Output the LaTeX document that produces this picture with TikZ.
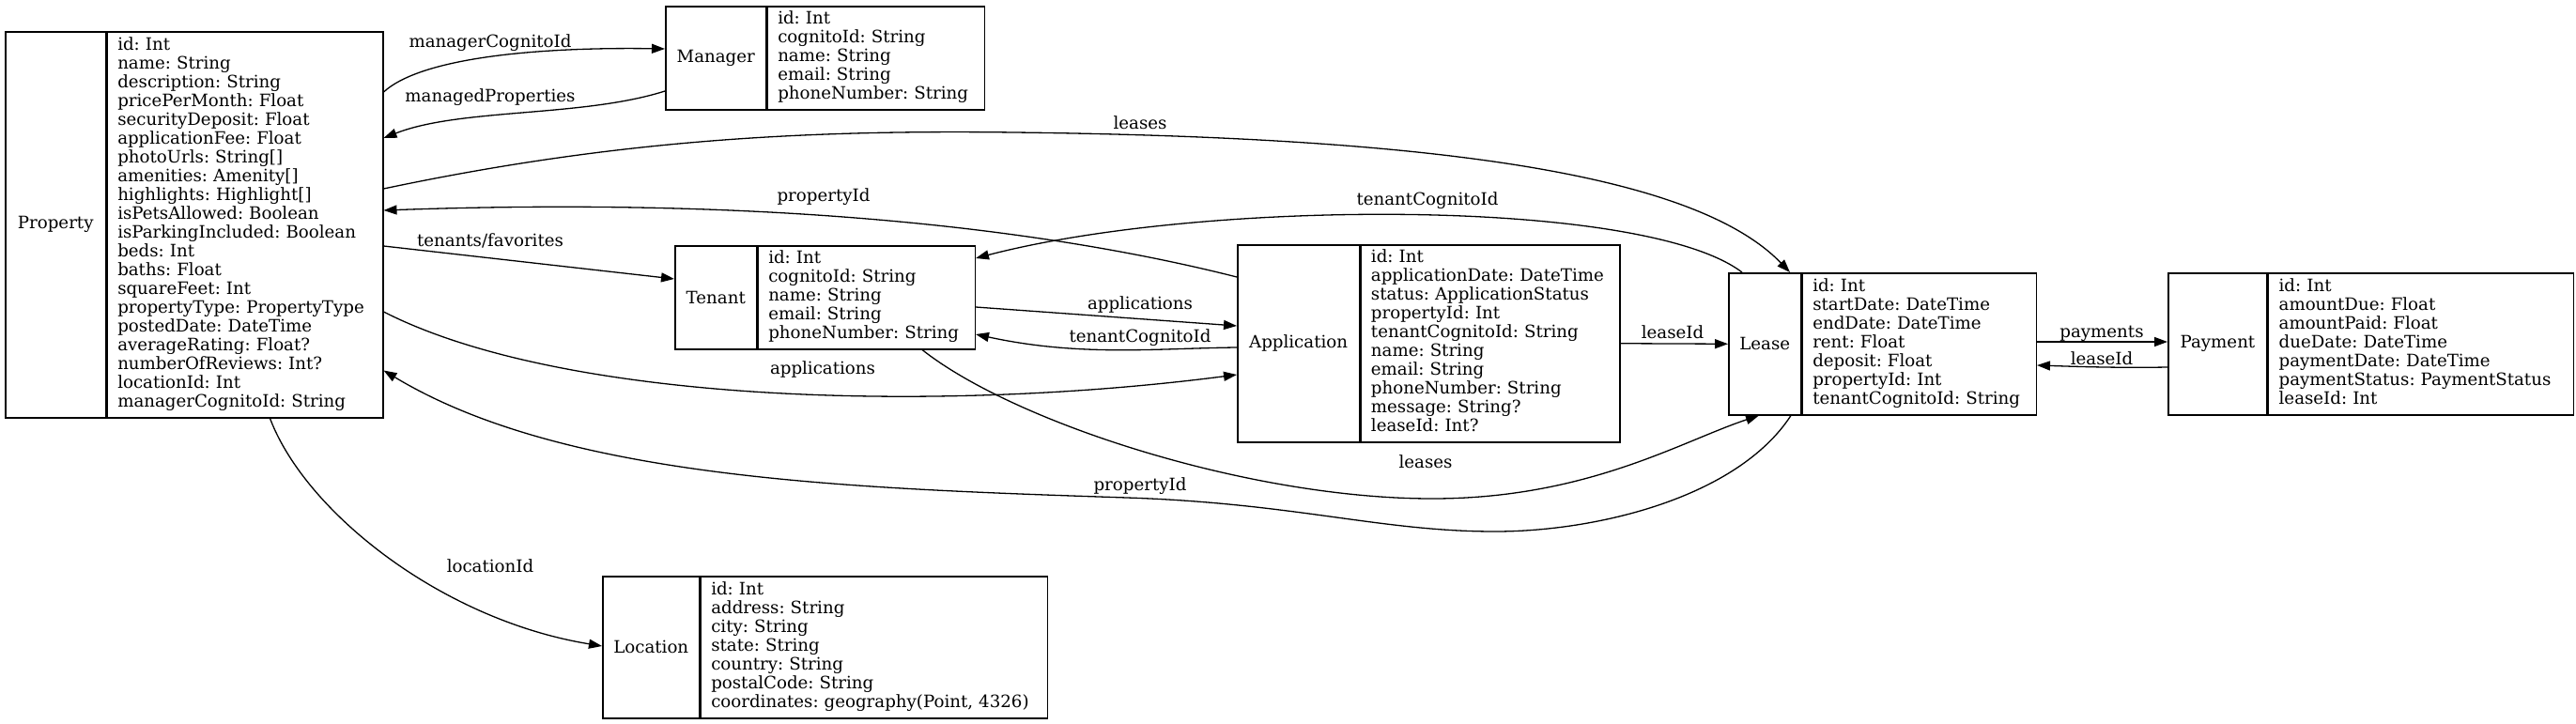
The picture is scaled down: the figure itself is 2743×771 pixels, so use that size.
\documentclass[tikz,border=0pt]{standalone}
\usepackage{fontspec}
\setmainfont{DejaVu Serif}
\usetikzlibrary{arrows.meta,calc}
\newcommand{\fieldlist}[1]{\begin{tabular}{@{}l@{}}#1\end{tabular}}
\begin{document}
\begin{tikzpicture}[x=0.5pt,y=-0.5pt,
  every node/.style={font=\fontsize{9.1}{10}\selectfont\frenchspacing},
  cell/.style={draw, line width=0.75pt, anchor=north west, inner sep=0pt},
  fields/.style={cell, align=left, inner xsep=5.5pt, inner ysep=0pt},
  link/.style={line width=0.65pt, -{Triangle[length=7pt,width=5pt]}},
  lbl/.style={inner sep=0pt}
]
\useasboundingbox (0,0) rectangle (2743,771);

% Property
\node[cell, minimum width=53.5pt, minimum height=205.5pt] (P) at (5,33) {Property};
\node[fields, minimum width=146.75pt, text width=135.75pt, minimum height=205.5pt] (Pf) at (P.north east)
 {\fieldlist{id: Int\\name: String\\description: String\\pricePerMonth: Float\\securityDeposit: Float\\applicationFee: Float\\photoUrls: String[]\\amenities: Amenity[]\\highlights: Highlight[]\\isPetsAllowed: Boolean\\isParkingIncluded: Boolean\\beds: Int\\baths: Float\\squareFeet: Int\\propertyType: PropertyType\\postedDate: DateTime\\averageRating: Float?\\numberOfReviews: Int?\\locationId: Int\\managerCognitoId: String}};

% Manager
\node[cell, minimum width=53.5pt, minimum height=55pt] (M) at (708,6) {Manager};
\node[fields, minimum width=115.5pt, text width=104.5pt, minimum height=55pt] (Mf) at (M.north east)
 {\fieldlist{id: Int\\cognitoId: String\\name: String\\email: String\\phoneNumber: String}};

% Tenant
\node[cell, minimum width=43.5pt, minimum height=55pt] (T) at (718,261) {Tenant};
\node[fields, minimum width=115.5pt, text width=104.5pt, minimum height=55pt] (Tf) at (T.north east)
 {\fieldlist{id: Int\\cognitoId: String\\name: String\\email: String\\phoneNumber: String}};

% Application
\node[cell, minimum width=64.85pt, minimum height=105pt] (A) at (1317,260) {Application};
\node[fields, minimum width=138pt, text width=127pt, minimum height=105pt] (Af) at (A.north east)
 {\fieldlist{id: Int\\applicationDate: DateTime\\status: ApplicationStatus\\propertyId: Int\\tenantCognitoId: String\\name: String\\email: String\\phoneNumber: String\\message: String?\\leaseId: Int?}};

% Lease
\node[cell, minimum width=38.5pt, minimum height=75.5pt] (L) at (1840,290) {Lease};
\node[fields, minimum width=124.5pt, text width=113.5pt, minimum height=75.5pt] (Lf) at (L.north east)
 {\fieldlist{id: Int\\startDate: DateTime\\endDate: DateTime\\rent: Float\\deposit: Float\\propertyId: Int\\tenantCognitoId: String}};

% Payment
\node[cell, minimum width=52.7pt, minimum height=75.5pt] (Pa) at (2308,290) {Payment};
\node[fields, minimum width=162.3pt, text width=151.3pt, minimum height=75.5pt] (Paf) at (Pa.north east)
 {\fieldlist{id: Int\\amountDue: Float\\amountPaid: Float\\dueDate: DateTime\\paymentDate: DateTime\\paymentStatus: PaymentStatus\\leaseId: Int}};

% Location
\node[cell, minimum width=51.5pt, minimum height=75.5pt] (Lo) at (641,613) {Location};
\node[fields, minimum width=184.5pt, text width=173.5pt, minimum height=75.5pt] (Lof) at (Lo.north east)
 {\fieldlist{id: Int\\address: String\\city: String\\state: String\\country: String\\postalCode: String\\coordinates: geography(Point, 4326)}};

% Edges
\draw[link] ($(Pf.north east)+(0,65)$) .. controls (450,60) and (580,50) .. ($(M.north west)+(0,46)$);
\node[lbl] (l1) at (522,46) {managerCognitoId};

\draw[link] ($(M.north west)+(0,91)$) .. controls (620,125) and (490,115) .. ($(Pf.north east)+(0,114)$);
\node[lbl] (l2) at (522,104) {managedProperties};

\draw[link] ($(Pf.north east)+(0,168)$) .. controls (650,150) and (850,138) .. (1080,141)
  .. controls (1500,146) and (1800,180) .. ($(L.north west)+(66,0)$);
\node[lbl] (l3) at (1214,131) {leases};

\draw[link] ($(A.north west)+(0,35)$) .. controls (1100,240) and (800,210) .. ($(Pf.north east)+(0,191)$);
\node[lbl] (l4) at (877,210) {propertyId};

\draw[link] ($(L.north west)+(15,0)$) .. controls (1750,210) and (1280,212) .. ($(Tf.north east)+(0,14)$);
\node[lbl] (l5) at (1520,214) {tenantCognitoId};

\draw[link] ($(Pf.north east)+(0,229)$) -- ($(T.north west)+(0,36)$);
\node[lbl] (l6) at (522,256) {tenants/favorites};

\draw[link] ($(Tf.north east)+(0,66)$) -- ($(A.north west)+(0,87)$);
\node[lbl] (l7) at (1214,324) {applications};

\draw[link] ($(A.north west)+(0,110)$) .. controls (1230,371) and (1150,380) .. ($(Tf.north east)+(0,95)$);
\node[lbl] (l8) at (1214,360) {tenantCognitoId};

\draw[link] ($(Pf.north east)+(0,299)$) .. controls (600,430) and (1000,440) .. ($(A.north west)+(0,139)$);
\node[lbl] (l9) at (876,393) {applications};

\draw[link] (Af.east) -- (L.west);
\node[lbl] (l10) at (1781,354) {leaseId};

\draw[link] ($(Tf.south east)+(-57,0)$) .. controls (1080,450) and (1330,531) .. (1525,531)
  .. controls (1690,531) and (1790,470) .. ($(L.south west)+(33,0)$);
\node[lbl] (l11) at (1518,492) {leases};

\draw[link] ($(L.south west)+(67,0)$) .. controls (1850,530) and (1700,566) .. (1592,566)
  .. controls (1470,566) and (1380,536) .. (1200,530)
  .. controls (900,520) and (600,510) .. ($(Pf.south east)+(0,-51)$);
\node[lbl] (l12) at (1214,518) {propertyId};

\draw[link] ($(Lf.north east)+(0,74)$) -- ($(Pa.north west)+(0,74)$);
\node[lbl] (l13) at (2238,355) {payments};

\draw[link] ($(Pa.north west)+(0,101)$) .. controls (2250,392) and (2200,390) .. ($(Lf.north east)+(0,99)$);
\node[lbl] (l14) at (2238,382) {leaseId};

\draw[link] ($(Pf.south west)+(174,0)$) .. controls (325,545) and (470,660) .. ($(Lo.north west)+(0,75)$);
\node[lbl] (l15) at (522,603) {locationId};

\end{tikzpicture}
\end{document}
